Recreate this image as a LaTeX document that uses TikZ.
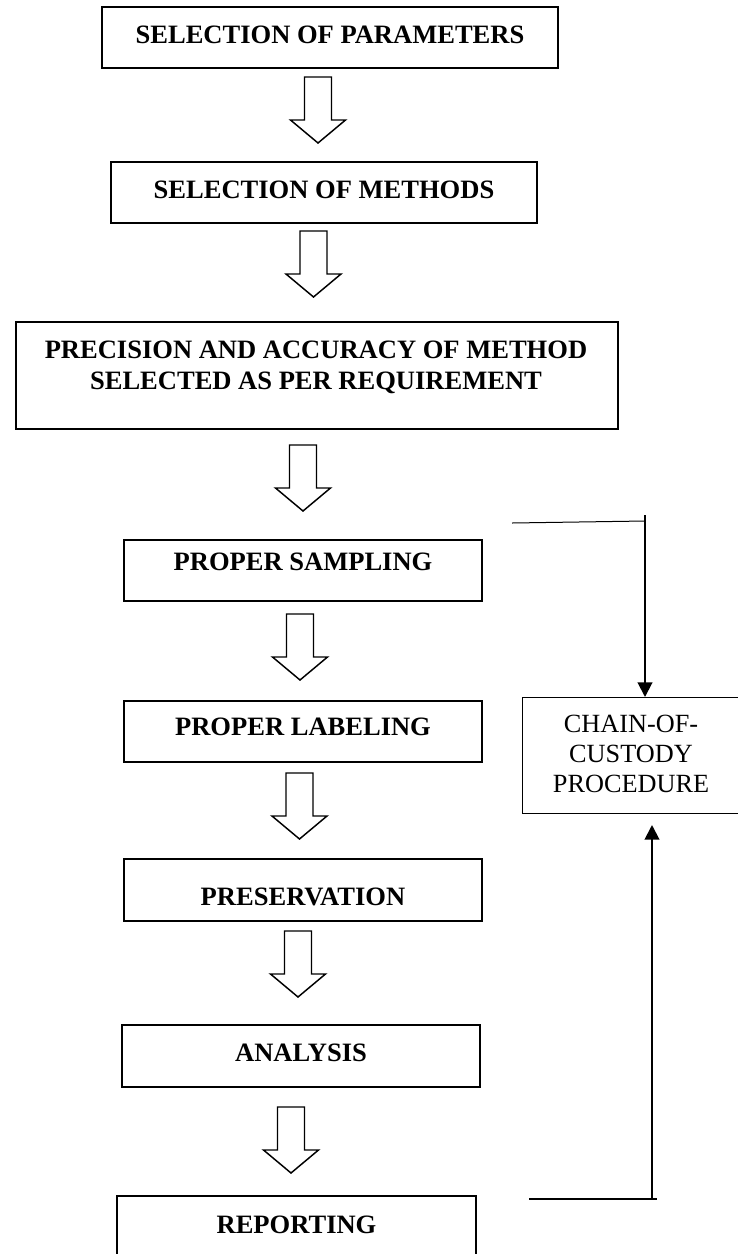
\documentclass[tikz,border=0pt]{standalone}
\usepackage{fontspec}
\setmainfont{Liberation Serif}
\usetikzlibrary{arrows.meta,calc}
\tikzset{
  box/.style={draw, line width=1.1pt, rectangle, inner sep=0pt, outer sep=0pt, anchor=north west},
  lbl/.style={font=\fontsize{19.9}{23.25}\selectfont\bfseries, inner sep=0pt, anchor=base},
  blockarrow/.pic={\draw[line width=1.1pt, line join=miter] (-13.5,0) -- (13.5,0) -- (13.5,43) -- (27.5,43) -- (0,66) -- (-27.5,43) -- (-13.5,43) -- cycle;},
  conn/.style={line width=1.5pt},
  endtip/.style={-{Triangle[length=11pt,width=11pt]}}
}
\begin{document}
\begin{tikzpicture}[x=0.75pt,y=-0.75pt]
\useasboundingbox (0,0) rectangle (738,1254);
\clip (0,0) rectangle (738,1254);

\node[box, minimum width=342pt, minimum height=45.75pt] (b1) at (102,7) {};
\node[lbl] (t1) at (330,43) {SELECTION OF PARAMETERS};
\pic (a1) at (318,77) {blockarrow};

\node[box, minimum width=319.5pt, minimum height=45.75pt] (b2) at (111,162) {};
\node[lbl] (t2) at (324,198) {SELECTION OF METHODS};
\pic (a2) at (313.5,231) {blockarrow};

\node[box, minimum width=451.5pt, minimum height=80.25pt] (b3) at (16,322) {};
\node[lbl, anchor=center, align=center] (t3) at (316,367) {PRECISION AND ACCURACY OF METHOD\\SELECTED AS PER REQUIREMENT};
\pic (a3) at (303,445) {blockarrow};

\node[box, minimum width=268.5pt, minimum height=45.75pt] (b4) at (124,540) {};
\node[lbl] (t4) at (303,570) {PROPER SAMPLING};
\pic (a4) at (300,614) {blockarrow};

\node[box, minimum width=268.5pt, minimum height=45.75pt] (b5) at (124,701) {};
\node[lbl] (t5) at (303,735) {PROPER LABELING};
\pic (a5) at (299.5,773) {blockarrow};

\node[box, minimum width=268.5pt, minimum height=46.5pt] (b6) at (124,859) {};
\node[lbl] (t6) at (303,905) {PRESERVATION};
\pic (a6) at (298,931) {blockarrow};

\node[box, minimum width=268.5pt, minimum height=46.5pt] (b7) at (122,1025) {};
\node[lbl] (t7) at (301,1061) {ANALYSIS};
\pic (a7) at (291,1107) {blockarrow};

\node[box, minimum width=269.25pt, minimum height=60pt] (b8) at (117,1196) {};
\node[lbl] (t8) at (296.5,1233) {REPORTING};

\node[draw, line width=0.75pt, inner sep=0pt, outer sep=0pt, anchor=north west, minimum width=165pt, minimum height=87pt] (chain) at (522,697) {};
\node[font=\fontsize{19.7}{22.5}\selectfont, align=center, inner sep=0pt] (ct) at (631,754) {CHAIN-OF-\\CUSTODY\\PROCEDURE};

\coordinate (p1) at (512,523);
\coordinate (p2) at (645,521);
\coordinate (p3) at (645,515);
\draw[line width=0.75pt] (p1) -- (p2);
\draw[conn, endtip] (p3) -- (p3 |- chain.north);

\coordinate (q1) at (529,1199);
\coordinate (q2) at (657,1199);
\coordinate (q3) at (652,1199);
\draw[conn] (q1) -- (q2);
\draw[conn, endtip] (q3) -- ($(q3 |- chain.south)+(0,12)$);
\end{tikzpicture}
\end{document}
